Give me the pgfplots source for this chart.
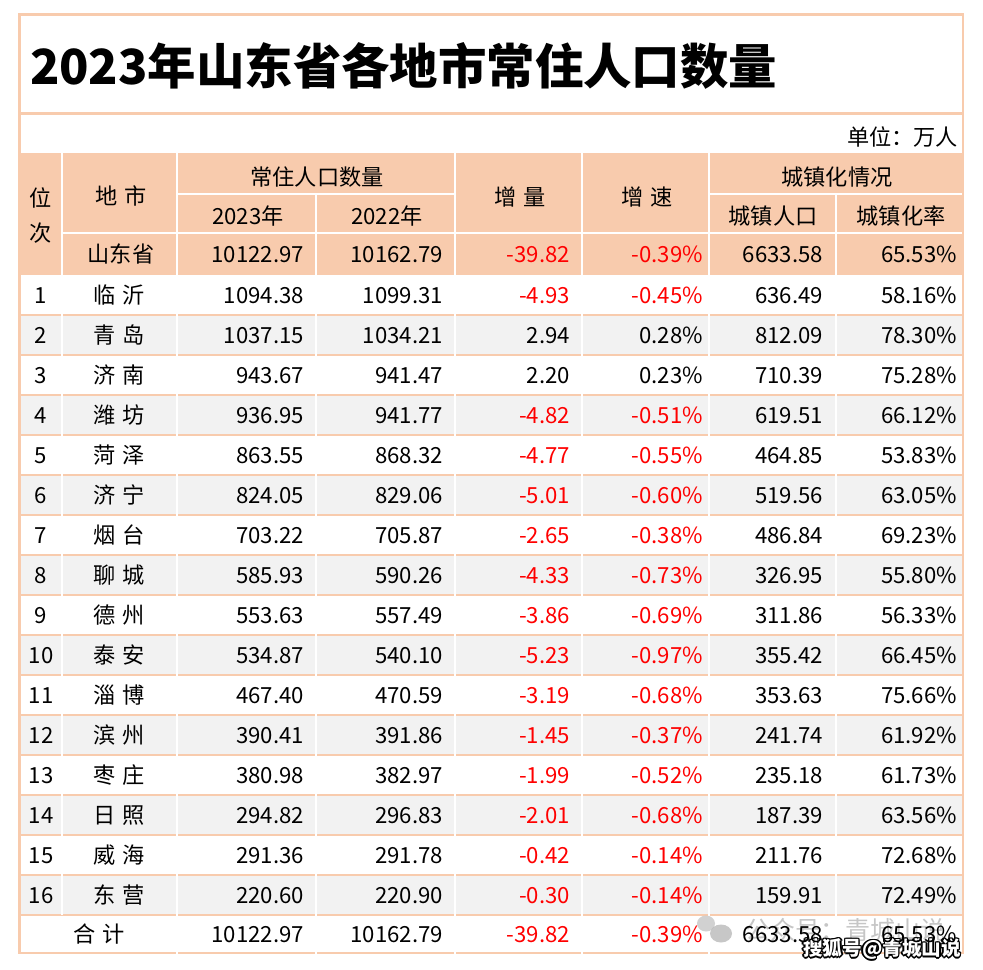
\documentclass[border=0pt]{standalone}
\usepackage{pgfplots}
\pgfplotsset{compat=1.18}
\usepackage{pgfplotstable}
\usepackage{fontspec}
\setmainfont{Noto Sans CJK SC}
\definecolor{peach}{HTML}{F8CBAD}
\definecolor{rowgrey}{HTML}{F2F2F2}
\definecolor{negred}{HTML}{FF0000}
\protected\def\gap{\kern0.3em}
\newcommand{\vc}[2]{\raisebox{-0.45em}[0pt][0pt]{\makebox[0pt][#1]{#2}}}
\newcommand{\cellfont}{\fontsize{11.1}{13}\selectfont}

\pgfplotstableread[col sep=comma,row sep=\\]{
yc,rank,city,a,b,inc,rate,urb,ur\\
294.5,1,临\gap 沂,1094.38,1099.31,-4.93,-0.45,636.49,58.16\\
334.5,2,青\gap 岛,1037.15,1034.21,2.94,0.28,812.09,78.30\\
374.5,3,济\gap 南,943.67,941.47,2.20,0.23,710.39,75.28\\
414.5,4,潍\gap 坊,936.95,941.77,-4.82,-0.51,619.51,66.12\\
454.5,5,菏\gap 泽,863.55,868.32,-4.77,-0.55,464.85,53.83\\
494.5,6,济\gap 宁,824.05,829.06,-5.01,-0.60,519.56,63.05\\
534.5,7,烟\gap 台,703.22,705.87,-2.65,-0.38,486.84,69.23\\
574.5,8,聊\gap 城,585.93,590.26,-4.33,-0.73,326.95,55.80\\
614.5,9,德\gap 州,553.63,557.49,-3.86,-0.69,311.86,56.33\\
654.5,10,泰\gap 安,534.87,540.10,-5.23,-0.97,355.42,66.45\\
694.5,11,淄\gap 博,467.40,470.59,-3.19,-0.68,353.63,75.66\\
734.5,12,滨\gap 州,390.41,391.86,-1.45,-0.37,241.74,61.92\\
774.5,13,枣\gap 庄,380.98,382.97,-1.99,-0.52,235.18,61.73\\
814.5,14,日\gap 照,294.82,296.83,-2.01,-0.68,187.39,63.56\\
854.5,15,威\gap 海,291.36,291.78,-0.42,-0.14,211.76,72.68\\
894.5,16,东\gap 营,220.60,220.90,-0.30,-0.14,159.91,72.49\\
}\citydata

\pgfplotstableread[col sep=comma,row sep=\\]{
yc,cx,name,a,b,inc,rate,urb,ur\\
253.8,121,山东省,10122.97,10162.79,-39.82,-0.39,6633.58,65.53\\
933.8,99.5,合\gap 计,10122.97,10162.79,-39.82,-0.39,6633.58,65.53\\
}\sumdata

\pgfplotsset{
  cellC/.style={draw=none, mark=none, forget plot, point meta=explicit symbolic,
    nodes near coords={\vc{c}{\pgfplotspointmeta}},
    every node near coord/.append style={inner sep=0pt, font=\cellfont, text=#1}},
  cellC/.default=black,
  cellR/.style={draw=none, mark=none, forget plot, point meta=explicit symbolic,
    nodes near coords={\vc{r}{\pgfplotspointmeta}},
    every node near coord/.append style={inner sep=0pt, font=\cellfont, text=#1}},
  cellR/.default=black,
  cellP/.style={draw=none, mark=none, forget plot, point meta=explicit symbolic,
    nodes near coords={\vc{r}{\pgfplotspointmeta\%}},
    every node near coord/.append style={inner sep=0pt, font=\cellfont, text=#1}},
  cellP/.default=black,
}

\begin{document}
\begin{tikzpicture}
\begin{axis}[hide axis, scale only axis, width=491.5pt, height=484.5pt,
  xmin=0, xmax=983, ymin=0, ymax=969, y dir=reverse, clip=false]
% background and fills
\fill[white] (axis cs:0,0) rectangle (axis cs:983,969);
\fill[peach] (axis cs:19,153.3) rectangle (axis cs:963,274.5);
\pgfplotsinvokeforeach{2,4,6,8,10,12,14,16}{
  \fill[rowgrey] (axis cs:19,{274.5+40*(#1-1)}) rectangle (axis cs:963,{274.5+40*#1});
}
% peach row lines
\pgfplotsinvokeforeach{1,...,16}{
  \draw[peach, line width=1pt] (axis cs:19,{274.5+40*#1}) -- (axis cs:963,{274.5+40*#1});
}
\draw[peach, line width=1.2pt] (axis cs:19,113.5) -- (axis cs:963,113.5);
\draw[peach, line width=1.3pt] (axis cs:19.5,14.2) rectangle (axis cs:962.8,953);
% white separators
\begin{scope}[white, line width=1pt]
\draw (axis cs:177,193.6) -- (axis cs:455,193.6);
\draw (axis cs:710,193.6) -- (axis cs:961.5,193.6);
\draw (axis cs:62,233) -- (axis cs:961.5,233);
\draw (axis cs:61.5,153.3) -- (axis cs:61.5,914.5);
\draw (axis cs:177,153.3) -- (axis cs:177,953.5);
\draw (axis cs:316,193.6) -- (axis cs:316,953.5);
\draw (axis cs:455,153.3) -- (axis cs:455,953.5);
\draw (axis cs:582,153.3) -- (axis cs:582,953.5);
\draw (axis cs:709,153.3) -- (axis cs:709,953.5);
\draw (axis cs:836,193.6) -- (axis cs:836,953.5);
\end{scope}
% title and headers
\node[inner sep=0pt, font=\bfseries\fontsize{24.2}{29}\selectfont] at (axis cs:30,66) {\raisebox{-0.38em}[0pt][0pt]{\makebox[0pt][l]{2023年山东省各地市常住人口数量}}};
\begin{scope}[every node/.style={inner sep=0pt, font=\cellfont}]
\node at (axis cs:958,136) {\vc{r}{单位：万人}};
\node at (axis cs:41,197) {\vc{c}{位}};
\node at (axis cs:41,232) {\vc{c}{次}};
\node at (axis cs:121,195) {\vc{c}{地\gap 市}};
\node at (axis cs:317,175.5) {\vc{c}{常住人口数量}};
\node at (axis cs:248,215) {\vc{c}{2023年}};
\node at (axis cs:387,215) {\vc{c}{2022年}};
\node at (axis cs:520,196) {\vc{c}{增\gap 量}};
\node at (axis cs:647,196) {\vc{c}{增\gap 速}};
\node at (axis cs:837,175.5) {\vc{c}{城镇化情况}};
\node at (axis cs:773,215) {\vc{c}{城镇人口}};
\node at (axis cs:901,215) {\vc{c}{城镇化率}};
\end{scope}
% data
\addplot[cellC] table[x expr=41, y=yc, meta=rank] {\citydata};
\addplot[cellC] table[x expr=119, y=yc, meta=city] {\citydata};
\addplot[cellC] table[x=cx, y=yc, meta=name] {\sumdata};
\addplot[cellR] table[x expr=304, y=yc, meta=a] {\citydata};
\addplot[cellR] table[x expr=304, y=yc, meta=a] {\sumdata};
\addplot[cellR] table[x expr=443, y=yc, meta=b] {\citydata};
\addplot[cellR] table[x expr=443, y=yc, meta=b] {\sumdata};
\addplot[cellR=negred, restrict expr to domain={\thisrow{inc}}{-1000:0}] table[x expr=570, y=yc, meta=inc] {\citydata};
\addplot[cellR, restrict expr to domain={\thisrow{inc}}{0:1000}] table[x expr=570, y=yc, meta=inc] {\citydata};
\addplot[cellR=negred] table[x expr=570, y=yc, meta=inc] {\sumdata};
\addplot[cellP=negred, restrict expr to domain={\thisrow{rate}}{-1000:0}] table[x expr=703, y=yc, meta=rate] {\citydata};
\addplot[cellP, restrict expr to domain={\thisrow{rate}}{0:1000}] table[x expr=703, y=yc, meta=rate] {\citydata};
\addplot[cellP=negred] table[x expr=703, y=yc, meta=rate] {\sumdata};
\addplot[cellR] table[x expr=823, y=yc, meta=urb] {\citydata};
\addplot[cellR] table[x expr=823, y=yc, meta=urb] {\sumdata};
\addplot[cellP] table[x expr=957, y=yc, meta=ur] {\citydata};
\addplot[cellP] table[x expr=957, y=yc, meta=ur] {\sumdata};
% watermarks
\fill[gray!45, opacity=0.8] (axis cs:706,923.5) ellipse [x radius=4.5pt, y radius=4pt];
\fill[gray!55, opacity=0.8] (axis cs:721,933.5) ellipse [x radius=5.5pt, y radius=4.5pt];
\node[inner sep=0pt, text=gray!45, font=\fontsize{12.5}{15}\selectfont] at (axis cs:845,928) {\vc{c}{公众号：青城山说}};
\pgfplotsinvokeforeach{0,45,...,315}{
  \node[inner sep=0pt, text=black, font=\bfseries\fontsize{9.8}{12}\selectfont] at ([shift={(#1:0.7pt)}]axis cs:882,947) {\vc{c}{搜狐号@青城山说}};
}
\node[inner sep=0pt, text=white, font=\bfseries\fontsize{9.8}{12}\selectfont] at (axis cs:882,947) {\vc{c}{搜狐号@青城山说}};
\end{axis}
\end{tikzpicture}
\end{document}
